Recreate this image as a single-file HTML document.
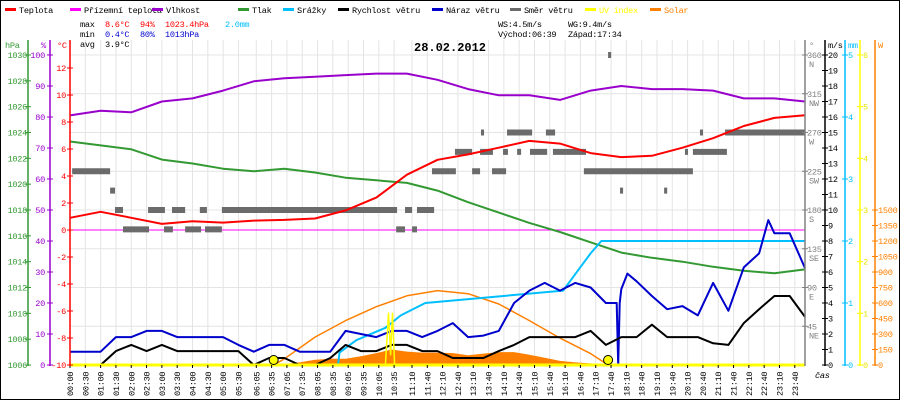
<!DOCTYPE html>
<html><head><meta charset="utf-8"><style>
html,body{margin:0;padding:0;background:#fff}
svg{display:block}
text{font-family:"Liberation Mono",monospace;font-size:8.6px;letter-spacing:-0.3px}
</style></head><body>
<svg id="c" width="900" height="400" xmlns="http://www.w3.org/2000/svg">
<rect x="0.5" y="0.5" width="899" height="399" fill="#fff" stroke="#000"/>
<g id="grid"></g>
<g id="series"></g>
<g id="axes"></g>
<g id="legend"></g>
<g>
<text x="80" y="27">max</text><text x="105" y="27" fill="#f00">8.6°C</text><text x="140" y="27" fill="#f00">94%</text><text x="165" y="27" fill="#f00">1023.4hPa</text><text x="225" y="27" fill="#00bfff">2.0mm</text>
<text x="80" y="37">min</text><text x="105" y="37" fill="#00c">0.4°C</text><text x="140" y="37" fill="#00c">80%</text><text x="165" y="37" fill="#00c">1013hPa</text>
<text x="80" y="47">avg</text><text x="105" y="47">3.9°C</text>
<text x="498" y="27">WS:4.5m/s</text><text x="568" y="27">WG:9.4m/s</text>
<text x="498" y="37">Východ:06:39</text><text x="568" y="37">Západ:17:34</text>
</g>
<text x="414" y="51" style="font-size:12px;font-weight:bold;letter-spacing:0">28.02.2012</text>
</svg>
<script>
const hours=[0,1,2,3,4,5,6,7,8,9,10,11,12,13,14,15,16,17,18,19,20,21,22,23,24];
const tempC=[0.9,1.35,0.9,0.45,0.65,0.55,0.7,0.75,0.85,1.45,2.4,4.1,5.2,5.6,6.1,6.6,6.4,5.7,5.4,5.5,6.1,6.8,7.7,8.3,8.5];
const apparentC=[0,0,0,0,0,0,0,0,0,0,0,0,0,0,0,0,0,0,0,0,0,0,0,0,0];
const humidity=[80.5,82,81.5,85,86,88.5,91.5,92.5,93,93.5,94,94,92,89,87,87,85.5,88.5,90,89,89,88.5,86,86,85];
const pressure=[1023.3,1023.0,1022.7,1021.9,1021.6,1021.2,1021.0,1021.2,1020.9,1020.5,1020.3,1020.1,1019.5,1018.6,1017.8,1017.0,1016.3,1015.5,1014.7,1014.3,1014.0,1013.6,1013.3,1013.1,1013.4];
const windT=[0,0.5,1,1.5,2,2.5,3,3.5,4,4.5,5,5.5,6,6.5,7,7.5,8,8.5,9,9.5,10,10.5,11,11.5,12,12.5,13,13.5,14,14.5,15,15.5,16,16.5,17,17.5,18,18.5,19,19.5,20,20.5,21,21.5,22,22.5,23,23.5,24];
const windV=[0,0,0,0.9,1.3,0.9,1.3,0.9,0.9,0.9,0.9,0.9,0,0.45,0.45,0,0,0.45,1.3,0.9,0.9,1.3,1.3,0.9,0.9,0.45,0.45,0.45,0.9,1.3,1.8,1.8,1.8,1.8,2.2,1.3,1.8,1.8,2.6,1.8,1.8,1.8,1.4,1.3,2.7,3.6,4.45,4.45,3.1];
const gustT=[0,0.5,1,1.5,2,2.5,3,3.5,4,4.5,5,5.5,6,6.5,7,7.5,8,8.5,9,9.5,10,10.5,11,11.5,12,12.5,13,13.5,14,14.5,15,15.5,16,16.5,17,17.5,17.85,17.9,17.95,18,18.2,18.5,19,19.5,20,20.5,21,21.5,22,22.5,22.8,23,23.5,24];
const gustV=[0.86,0.86,0.86,1.8,1.8,2.2,2.2,1.8,1.8,1.8,1.8,1.3,0.86,1.3,1.3,0.86,0.86,0.86,2.2,2.0,1.8,2.2,2.2,1.8,2.2,2.7,1.8,1.9,2.2,4.0,4.8,5.3,4.8,5.3,5.0,4.0,4.0,0,4.0,4.9,5.9,5.4,4.45,3.6,3.8,3.2,5.3,3.5,6.3,7.2,9.35,8.5,8.5,6.25];
const rainT=[8.75,8.8,9.35,10.3,10.8,11.6,16.1,16.4,16.7,17.0,17.35,24];
const rainV=[0,0.2,0.4,0.6,0.8,1.0,1.2,1.4,1.6,1.8,2.0,2.0];
const uvT=[0,10.3,10.4,10.47,10.53,10.6,10.7,24];
const uvV=[0,0,1.0,0.2,1.0,0,0,0];
const solarT=[6.7,7,7.5,8,8.5,9,9.5,10,10.5,11,11.5,12,12.5,13,13.5,14,14.5,15,15.5,16,16.5,17,17.4];
const solarV=[0,10,25,50,60,60,85,115,150,130,120,120,115,95,110,125,125,100,70,40,25,15,0];
const solarMaxT=[6.65,7,8,9,10,11,12,13,14,15,16,17,17.57];
const solarMaxV=[0,60,270,430,564,670,720,690,590,430,260,110,0];
const dirStart=[0.07,1.31,1.47,1.73,2.55,3.07,3.33,3.76,4.24,4.41,4.96,10.65,10.94,11.17,11.33,11.82,12.57,13.13,13.39,13.42,13.78,14.14,14.27,14.6,15.02,15.54,15.77,16.78,17.96,19.4,17.57,20.08,20.34,20.57,21.39];
const dirEnd=[1.31,1.47,1.73,2.58,3.1,3.36,3.76,4.28,4.47,4.96,10.68,10.94,11.17,11.33,11.89,12.6,13.13,13.39,13.81,13.52,14.24,14.3,15.09,14.73,15.58,15.84,16.85,20.34,18.06,19.5,17.67,20.18,21.45,20.67,24];
const dirDeg=[225,202.5,180,157.5,180,157.5,180,157.5,180,157.5,180,157.5,180,157.5,180,225,247.5,225,247.5,270,225,247.5,270,247.5,247.5,270,247.5,225,202.5,202.5,360,247.5,247.5,270,270];
const sunEvents=[6.65,17.57];
const xLabels=["00:00","00:30","01:00","01:30","02:00","02:30","03:00","03:30","04:00","04:30","05:00","05:30","06:05","06:35","07:05","07:35","08:05","08:35","09:05","09:35","10:05","10:35","11:10","11:40","12:10","12:40","13:10","13:40","14:10","14:40","15:10","15:40","16:10","16:40","17:10","17:40","18:10","18:40","19:10","19:40","20:10","20:40","21:10","21:40","22:10","22:40","23:10","23:40"];
const dirTicks=[45,90,135,180,225,270,315,360];
const dirNames=["NE","E","SE","S","SW","W","NW","N"];

const NS="http://www.w3.org/2000/svg";
const X0=70,X1=805,Y0=365;
const xS=h=>X0+h*(X1-X0)/24;
const tY=v=>230-v*13.5;
const hY=v=>365-v*3.1;
const pY=v=>55+(1030-v)*(310/24);
const wY=v=>365-v*15.5;
const rY=v=>365-v*62;
const uY=v=>365-v*51.67;
const sY=v=>365-v*155/1500;
const dY=v=>365-v*310/360;
function el(tag,attrs,parent){const e=document.createElementNS(NS,tag);for(const k in attrs)e.setAttribute(k,attrs[k]);parent.appendChild(e);return e;}
function tm(s){const p=s.split(":");return +p[0]+(+p[1])/60;}
const grid=document.getElementById('grid'),ser=document.getElementById('series'),ax=document.getElementById('axes'),leg=document.getElementById('legend');

xLabels.forEach(l=>{const x=xS(tm(l));const g=el('line',{x1:x,x2:x,y1:40,y2:365,stroke:'#e4e4e4'},grid);


const t=el('text',{transform:`translate(${x+3},396) rotate(-90)`},ax);t.textContent=l;


el('line',{x1:x,x2:x,y1:365,y2:368,stroke:'#000'},ax);});
for(let k=0;k<9;k++){const y=55+k*38.75;const g=el('line',{x1:70,x2:805,y1:y,y2:y,stroke:'#e4e4e4'},grid);

}

function line(ts,vs,fy,color,w,name){const pts=ts.map((t,i)=>xS(t).toFixed(1)+','+fy(vs[i]).toFixed(1)).join(' ');
const p=el('polyline',{points:pts,fill:'none',stroke:color,'stroke-width':w,'stroke-linejoin':'round'},ser);

}

{const pts=[xS(solarT[0])+','+Y0].concat(solarT.map((t,i)=>xS(t).toFixed(1)+','+sY(solarV[i]).toFixed(1))).concat([xS(solarT[solarT.length-1])+','+Y0]).join(' ');
const p=el('polygon',{points:pts,fill:'#ff8000'},ser);

}
line(solarMaxT,solarMaxV,sY,'#ff8000',1.5,'solar-theoretical-line');
line(hours,apparentC,tY,'#ff00ff',1,'apparent-temperature-line');
dirDeg.forEach((d,i)=>{const r=el('rect',{x:xS(dirStart[i]),y:dY(d)-3,width:Math.max(2,xS(dirEnd[i])-xS(dirStart[i])),height:6,fill:'#6b6b6b'},ser);

});
line(hours,pressure,pY,'#339933',2,'pressure-line');
line(hours,humidity,hY,'#9900cc',2,'humidity-line');
line(hours,tempC,tY,'#ff0000',2,'temperature-line');
line(rainT,rainV,rY,'#00bfff',2,'rain-line');
line(gustT,gustV,wY,'#0000cc',2,'wind-gust-line');
line(windT,windV,wY,'#000',2,'wind-speed-line');
line(uvT,uvV,uY,'#ffff00',1.5,'uv-index-line');
{const b=el('line',{x1:70,x2:805,y1:365,y2:365,stroke:'#ffff00','stroke-width':3},ser);

}
sunEvents.forEach(t=>{const c=el('circle',{cx:xS(t),cy:360,r:4.5,fill:'#ffff00',stroke:'#000','stroke-width':1},ser);

});

function vAxis(x,color,name){const a=el('line',{x1:x,x2:x,y1:40,y2:366,stroke:color,'stroke-width':1.5},ax);

}
function lbl(x,y,s,color,anchor,name){const t=el('text',{x:x,y:y,fill:color,'text-anchor':anchor||'start'},ax);t.textContent=s;

}
vAxis(28,'#339933','pressure-axis');vAxis(50,'#9900cc','humidity-axis');vAxis(70,'#ff0000','temperature-axis');
vAxis(805,'#808080','direction-axis');vAxis(825,'#000','wind-axis');vAxis(845,'#00bfff','rain-axis');vAxis(860,'#ffff00','uv-axis');vAxis(875,'#ff8000','solar-axis');
lbl(5,48,'hPa','#339933','start','pressure-unit');lbl(41,48,'%','#9900cc','start','humidity-unit');lbl(57,48,'°C','#ff0000','start','temperature-unit');
lbl(809,48,'°','#808080','start','direction-unit');lbl(828,48,'m/s','#000','start','wind-unit');lbl(848,48,'mm','#00bfff','start','rain-unit');lbl(878,48,'W','#ff8000','start','solar-unit');
for(let p=1006;p<=1030;p+=2){const y=pY(p);el('line',{x1:25,x2:31,y1:y,y2:y,stroke:'#339933'},ax);lbl(27,y+3,String(p),'#339933','end','pressure-tick-label');}
for(let h=0;h<=100;h+=10){const y=hY(h);el('line',{x1:47,x2:53,y1:y,y2:y,stroke:'#9900cc'},ax);lbl(45,y+3,String(h),'#9900cc','end','humidity-tick-label');}
for(let t=-10;t<=12;t+=2){const y=tY(t);el('line',{x1:67,x2:73,y1:y,y2:y,stroke:'#ff0000'},ax);lbl(66,y+3,String(t),'#ff0000','end','temperature-tick-label');}
dirTicks.forEach((d,i)=>{const y=dY(d);el('line',{x1:802,x2:808,y1:y,y2:y,stroke:'#808080'},ax);lbl(807,y+3,String(d),'#808080','start','direction-tick-label');lbl(809,y+12,dirNames[i],'#808080','start','direction-name-label');});
for(let w=0;w<=20;w++){const y=wY(w);el('line',{x1:822,x2:828,y1:y,y2:y,stroke:'#000'},ax);lbl(828,y+3,String(w),'#000','start','wind-tick-label');}
for(let r=0;r<=5;r++){const y=rY(r);el('line',{x1:842,x2:848,y1:y,y2:y,stroke:'#00bfff'},ax);lbl(848,y+3,String(r),'#00bfff','start','rain-tick-label');}
for(let u=0;u<=6;u++){const y=uY(u);el('line',{x1:857,x2:863,y1:y,y2:y,stroke:'#ffff00'},ax);lbl(863,y+3,String(u),'#e6e600','start','uv-tick-label');}
for(let s=0;s<=1500;s+=150){const y=sY(s);el('line',{x1:872,x2:878,y1:y,y2:y,stroke:'#ff8000'},ax);lbl(878,y+3,String(s),'#ff8000','start','solar-tick-label');}
{const t=el('text',{x:815,y:378,'font-style':'italic'},ax);t.textContent='čas';

}

const legNames=["Teplota","Přízemní teplota","Vlhkost","Tlak","Srážky","Rychlost větru","Náraz větru","Směr větru","UV index","Solar"];
const legColors=["#ff0000","#ff00ff","#9900cc","#339933","#00bfff","#000000","#0000cc","#6b6b6b","#ffff00","#ff8000"];
const legX=[5,70,152,238,283,338,432,510,585,650];
legNames.forEach((n,i)=>{const g=el('g',{},leg);


el('rect',{x:legX[i],y:8,width:11,height:3,fill:legColors[i]},g);
const t=el('text',{x:legX[i]+14,y:13,fill:(i>=8?legColors[i]:'#000')},g);t.textContent=n;});
</script>
</body></html>
